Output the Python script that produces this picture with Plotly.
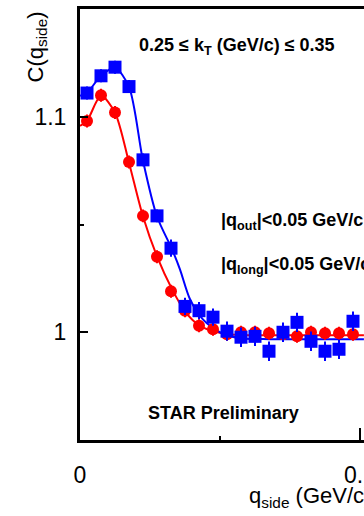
import plotly.graph_objects as go

# Measured points: bin centres in q_side (GeV/c)
q_side = [0.0025, 0.0075, 0.0125, 0.0175, 0.0225, 0.0275, 0.0325, 0.0375, 0.0425, 0.0475,
          0.0525, 0.0575, 0.0625, 0.0675, 0.0725, 0.0775, 0.0825, 0.0875, 0.0925, 0.0975]

# Red circles
c_red = [1.098, 1.110, 1.102, 1.079, 1.054, 1.035, 1.019, 1.010, 1.003, 1.0014,
         0.9991, 1.000, 1.000, 0.9995, 0.9991, 0.9981, 1.000, 0.9995, 0.9995, 0.9991]
e_red = [0.003, 0.003, 0.003, 0.003, 0.003, 0.003, 0.003, 0.003, 0.003, 0.003,
         0.003, 0.003, 0.003, 0.003, 0.003, 0.003, 0.003, 0.003, 0.003, 0.003]

# Blue squares
c_blue = [1.111, 1.119, 1.123, 1.114, 1.080, 1.054, 1.039, 1.012, 1.010, 1.007,
          1.0005, 0.9977, 0.9981, 0.9912, 1.000, 1.0046, 0.9958, 0.9912, 0.9921, 1.0051]
e_blue = [0.003, 0.003, 0.003, 0.003, 0.003, 0.003, 0.004, 0.004, 0.004, 0.004,
          0.0045, 0.0045, 0.0045, 0.0045, 0.0045, 0.0045, 0.0045, 0.0045, 0.0045, 0.0045]

# Fit curves
fit_red_x = [0.0, 0.0025, 0.0075, 0.0125, 0.0175, 0.0225, 0.0275, 0.0329, 0.0375, 0.0425,
             0.0475, 0.0525, 0.0607, 0.0786, 0.1014]
fit_red_y = [1.0958, 1.0981, 1.1097, 1.1019, 1.0787, 1.0537, 1.0352, 1.0199, 1.0097, 1.0032,
             1.0005, 0.9991, 0.9986, 0.9986, 0.9986]
fit_blue_x = [0.0, 0.0025, 0.0075, 0.0125, 0.0175, 0.0225, 0.0275, 0.0329, 0.0357, 0.0393,
              0.0439, 0.05, 0.0571, 0.0679, 0.1014]
fit_blue_y = [1.1097, 1.1111, 1.1190, 1.1227, 1.1139, 1.0796, 1.0537, 1.0384, 1.0292, 1.0153,
              1.0060, 1.0, 0.9972, 0.9968, 0.9968]

RED = "#ff0000"
BLUE = "#0000ff"
FONT = "Liberation Sans"

fig = go.Figure()

fig.add_trace(go.Scatter(x=fit_red_x, y=fit_red_y, mode="lines",
                         line=dict(color=RED, width=2, shape="spline", smoothing=0.8),
                         hoverinfo="skip"))
fig.add_trace(go.Scatter(x=fit_blue_x, y=fit_blue_y, mode="lines",
                         line=dict(color=BLUE, width=2, shape="spline", smoothing=0.8),
                         hoverinfo="skip"))
fig.add_trace(go.Scatter(x=q_side, y=c_red, mode="markers",
                         marker=dict(symbol="circle", size=12, color=RED, line=dict(width=0)),
                         error_y=dict(type="data", array=e_red, color=RED, thickness=2, width=0)))
fig.add_trace(go.Scatter(x=q_side, y=c_blue, mode="markers",
                         marker=dict(symbol="square", size=13, color=BLUE, line=dict(width=0)),
                         error_y=dict(type="data", array=e_blue, color=BLUE, thickness=2, width=0)))

fig.update_xaxes(range=[0, 0.10143], showgrid=False, zeroline=False, automargin=False,
                 showline=True, linecolor="black", linewidth=3, mirror=True,
                 ticks="inside", ticklen=12, tickwidth=2, tickcolor="black",
                 tickvals=[0, 0.1], ticktext=["0", "0.1"],
                 minor=dict(ticks="inside", ticklen=4, tickwidth=2, tickcolor="black",
                            tickvals=[0.05]),
                 tickfont=dict(family=FONT, size=23, color="black"),
                 ticklabeloverflow="allow",
                 ticklabelstandoff=12)
fig.update_yaxes(range=[0.95, 1.15], showgrid=False, zeroline=False, automargin=False,
                 showline=True, linecolor="black", linewidth=3, mirror=False,
                 ticks="inside", ticklen=8, tickwidth=2, tickcolor="black",
                 tickvals=[1.0, 1.1], ticktext=["1", "1.1"],
                 minor=dict(ticks="inside", ticklen=4, tickwidth=2, tickcolor="black",
                            tickvals=[1.05]),
                 tickfont=dict(family=FONT, size=23, color="black"),
                 ticklabelstandoff=6)

notes = [
    dict(text="<b>0.25 \u2264 k<sub>T</sub> (GeV/c) \u2264 0.35</b>", x=0.2007, y=0.912,
         xanchor="left", yanchor="middle", size=18),
    dict(text="<b>|q<sub>out</sub>|<0.05 GeV/c</b>", x=0.49, y=0.508,
         xanchor="left", yanchor="middle", size=18),
    dict(text="<b>|q<sub>long</sub>|<0.05 GeV/c</b>", x=0.49, y=0.406,
         xanchor="left", yanchor="middle", size=18),
    dict(text="<b>STAR Preliminary</b>", x=0.507, y=0.062,
         xanchor="center", yanchor="middle", size=18),
]
for n in notes:
    fig.add_annotation(text=n["text"], x=n["x"], y=n["y"], xref="paper", yref="paper",
                       xanchor=n["xanchor"], yanchor=n["yanchor"], showarrow=False,
                       font=dict(family=FONT, size=n["size"], color="black"))

# Axis titles
fig.add_annotation(text="q<sub>side</sub> (GeV/c)", x=0.588, y=-0.095, xref="paper", yref="paper",
                   xanchor="left", yanchor="top", showarrow=False,
                   font=dict(family=FONT, size=22, color="black"))
fig.add_annotation(text="C(q<sub>side</sub>)", x=-0.151, y=0.998, xref="paper", yref="paper",
                   xanchor="center", yanchor="top", textangle=-90, showarrow=False,
                   font=dict(family=FONT, size=22, color="black"))

fig.update_layout(width=364, height=516, showlegend=False,
                  margin=dict(l=80, r=0, t=9, b=76, autoexpand=False),
                  plot_bgcolor="white", paper_bgcolor="white")

fig.write_html("out.html", config=dict(displayModeBar=False))
